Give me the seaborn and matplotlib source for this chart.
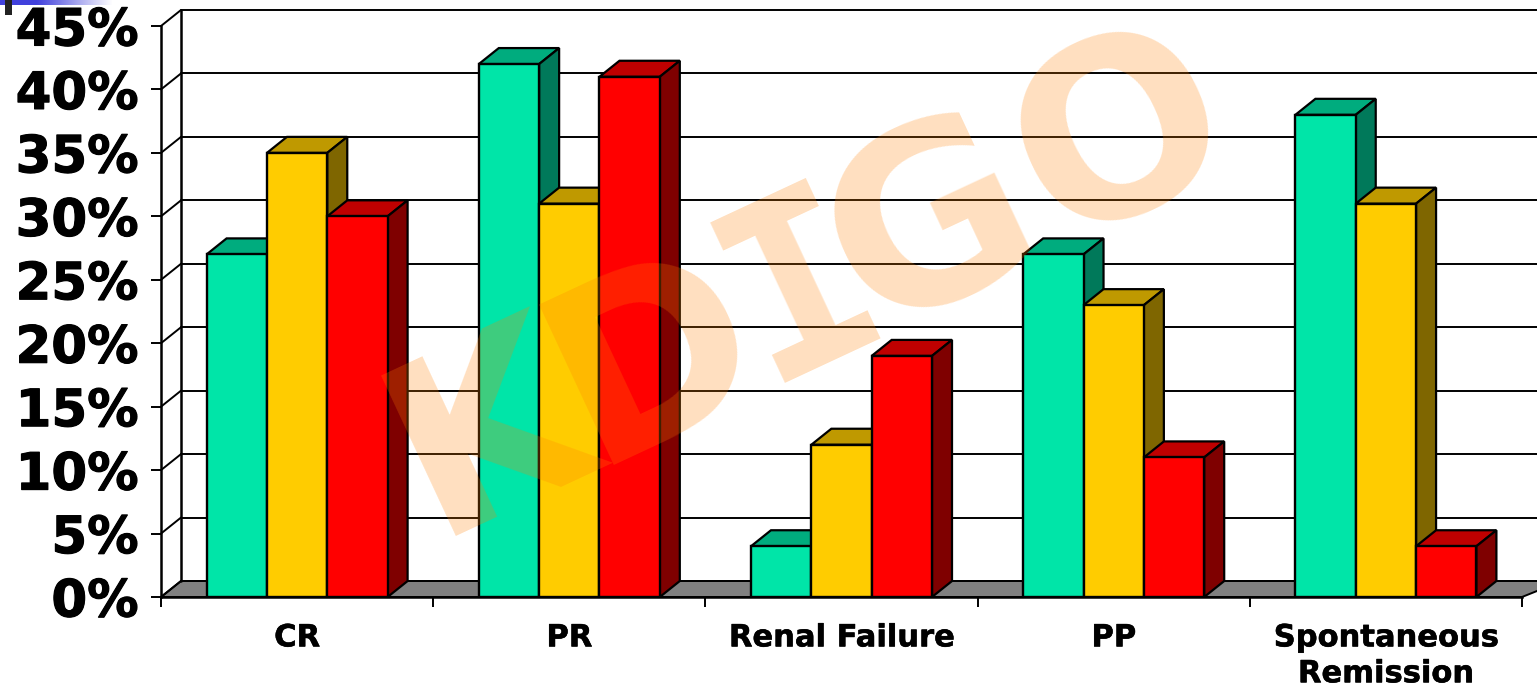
import numpy as np
import pandas as pd
import matplotlib
matplotlib.use('Agg')
import matplotlib.pyplot as plt
import matplotlib.patheffects as pe
from matplotlib.colors import LinearSegmentedColormap
import seaborn as sns

categories = ['CR', 'PR', 'Renal Failure', 'PP', 'Spontaneous\nRemission']
series_names = ['Series 1', 'Series 2', 'Series 3']
series_1 = [27, 42, 4, 27, 38]
series_2 = [35, 31, 12, 23, 31]
series_3 = [30, 41, 19, 11, 4]
y_ticks = [0, 5, 10, 15, 20, 25, 30, 35, 40, 45]
watermark = ['K', 'D', 'I', 'G', 'O']

front_colors = ['#00E5A8', '#FFCC00', '#FF0000']
top_colors = ['#00AC7E', '#BF9900', '#BF0000']
side_colors = ['#00795A', '#7F6600', '#7F0000']

W, H = 1537, 688

df = pd.DataFrame({
    'category': categories * 3,
    'series': np.repeat(series_names, 5),
    'value': series_1 + series_2 + series_3
})

sns.set_style('white')
plt.rcParams['font.family'] = ['DejaVu Sans']

fig = plt.figure(figsize=(W / 100, H / 100), dpi=100)
ax = fig.add_axes([161 / W, 1 - 597 / H, 1361 / W, 571 / H])

sns.barplot(
    data=df,
    x='category',
    y='value',
    hue='series',
    palette=front_colors,
    width=0.665,
    gap=0,
    edgecolor='black',
    linewidth=1.7,
    saturation=1,
    legend=False,
    ax=ax
)

ax.set_xlim(-0.5, 4.5)
ax.set_ylim(0, 45)
ax.set_xlabel('')
ax.set_ylabel('')

# fake 3d depth, same size in pixels as the original chart
dx = 20 / 272.2
dy = 16 / (571 / 45)

# walls and floor
x_left, x_right = -0.5, 4.5
ax.fill([x_left, x_left + dx, x_right + 2 * dx, x_right],
        [0, dy, dy, 0], color='#808080', ec='black', lw=1.4, clip_on=False, zorder=1)
ax.plot([x_left + dx, x_left + dx], [dy, 45 + dy], color='black', lw=1.8, clip_on=False, zorder=1.5)
for t in y_ticks:
    ax.plot([x_left, x_left + dx], [t, t + dy], color='black', lw=1.4, clip_on=False, zorder=1.5)
    ax.plot([x_left + dx, x_right + 2 * dx], [t + dy, t + dy], color='black', lw=1.4, clip_on=False, zorder=1.5)

# top and side of each bar, painted left to right
for h, container in enumerate(ax.containers):
    for c, bar in enumerate(container.patches):
        x0, x1 = bar.get_x(), bar.get_x() + bar.get_width()
        y = bar.get_height()
        z = 3 + c * 10 + h * 2
        ax.fill([x0, x1, x1 + dx, x0 + dx], [y, y, y + dy, y + dy],
                fc=top_colors[h], ec='black', lw=1.6, clip_on=False, zorder=z)
        ax.fill([x1, x1, x1 + dx, x1 + dx], [0, y, y + dy, dy],
                fc=side_colors[h], ec='black', lw=1.6, clip_on=False, zorder=z)
        bar.set_zorder(z + 1)

ax.set_yticks(y_ticks)
ax.set_yticklabels([str(t) + '%' for t in y_ticks], fontsize=37, fontweight='bold', color='black',
                   path_effects=[pe.withStroke(linewidth=0.8, foreground='black')])
ax.set_xticks(range(5))
ax.set_xticklabels(categories, fontsize=22, fontweight='bold', linespacing=1.3, color='black',
                   path_effects=[pe.withStroke(linewidth=0.4, foreground='black')])
ax.set_xticks(np.arange(-0.5, 5), minor=True)
ax.tick_params(axis='y', length=7, width=1.4, pad=9, left=True, color='black')
ax.tick_params(axis='x', which='major', length=0, pad=19)
ax.tick_params(axis='x', which='minor', length=7, width=1.4, bottom=True, color='black')

sns.despine(ax=ax, top=True, right=True)
for side in ['left', 'bottom']:
    ax.spines[side].set_color('black')
    ax.spines[side].set_linewidth(1.8)
    ax.spines[side].set_zorder(200)

# watermark over everything
wm_x = [491, 655, 802, 933, 1123]
wm_y = [435, 362, 291, 230, 141]
for letter, px, py in zip(watermark, wm_x, wm_y):
    fig.text(px / W, 1 - py / H, letter, fontsize=175, fontweight='bold',
             family='DejaVu Sans Mono' if letter == 'I' else 'DejaVu Sans',
             color='#FF8000', alpha=0.25, rotation=25, ha='center', va='center',
             rotation_mode='anchor', zorder=300)

# slide template remnant in the top left corner
corner = fig.add_axes([0, 1 - 5 / H, 113 / W, 5 / H])
corner.imshow(np.r_[np.zeros(36), np.linspace(0, 1, 77)].reshape(1, -1), aspect='auto',
              cmap=LinearSegmentedColormap.from_list('fade', ['#4040DC', '#FFFFFF']))
corner.axis('off')
block = fig.add_axes([5 / W, 1 - 15 / H, 7 / W, 15 / H])
block.set_facecolor('#222222')
block.set_xticks([])
block.set_yticks([])
for s in block.spines.values():
    s.set_visible(False)

fig.savefig('out.png', dpi=100)
